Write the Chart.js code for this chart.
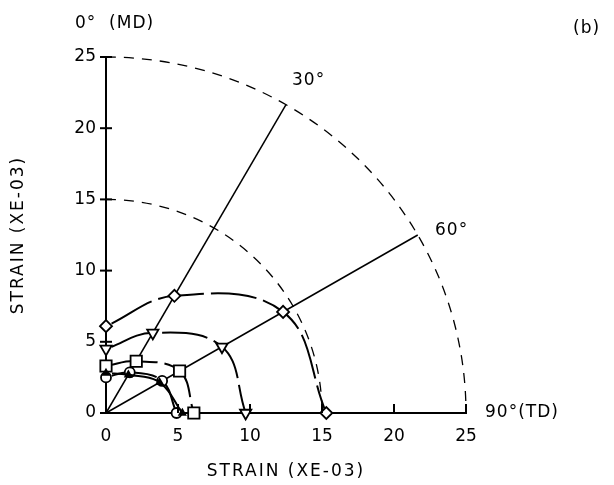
<!DOCTYPE html>
<html>
<head>
<meta charset="utf-8">
<script src="https://cdn.jsdelivr.net/npm/chart.js@4.4.0/dist/chart.umd.min.js"></script>
<style>
  html, body { margin: 0; padding: 0; background: #fff; }
  canvas { display: block; }
</style>
</head>
<body>
<canvas id="strainChart" width="614" height="485"></canvas>
<script>
// --- data (strain, XE-03) ---
const angles    = [0, 30, 60, 90];          // degrees from MD
const diamondR  = [6.1, 9.5, 14.2, 15.3];
const triangleR = [4.5, 6.5, 9.3, 9.7];
const squareR   = [3.3, 4.2, 5.9, 6.1];
const circleR   = [2.5, 3.3, 4.5, 4.9];
const dotR      = [2.8, 3.1, 4.3, 5.3];
const refArcs   = [15, 25];                 // dashed reference circles
const rayAngles = [30, 60];
const rayLength = 25;
const axisTicks = [0, 5, 10, 15, 20, 25];

const FONT = '"DejaVu Sans", sans-serif';
const rad = d => d * Math.PI / 180;

// polar (angle from MD axis, radius) -> x = TD, y = MD
function toXY(rs) {
    return rs.map((r, i) => ({ x: r * Math.sin(rad(angles[i])), y: r * Math.cos(rad(angles[i])) }));
}

function series(rs, style, radius, rotation, fill) {
    return {
        data: toXY(rs),
        showLine: true,
        clip: false,
        tension: 0.4,
        borderColor: '#000',
        borderWidth: 2,
        borderDash: [46, 7],
        borderDashOffset: -6,
        pointStyle: style,
        pointRotation: rotation || 0,
        pointRadius: radius,
        pointBackgroundColor: fill || '#fff',
        pointBorderColor: '#000',
        pointBorderWidth: 1.8
    };
}

const rays = rayAngles.map(a => ({
    data: [{ x: 0, y: 0 }, { x: rayLength * Math.sin(rad(a)), y: rayLength * Math.cos(rad(a)) }],
    showLine: true,
    clip: false,
    tension: 0,
    borderColor: '#000',
    borderWidth: 1.5,
    pointRadius: 0
}));

// --- extra drawing: reference arcs, tick marks, labels ---
const decorations = {
    id: 'decorations',
    beforeDatasetsDraw(chart) {
        const { ctx, scales: { x, y } } = chart;
        const cx = x.getPixelForValue(0), cy = y.getPixelForValue(0);
        ctx.save();
        ctx.strokeStyle = '#000';
        ctx.lineWidth = 1.3;
        ctx.setLineDash([10, 8]);
        refArcs.forEach(r => {
            ctx.beginPath();
            ctx.ellipse(cx, cy, x.getPixelForValue(r) - cx, cy - y.getPixelForValue(r), 0, -Math.PI / 2, 0);
            ctx.stroke();
        });
        ctx.restore();
    },
    afterDatasetsDraw(chart) {
        const { ctx, scales: { x, y } } = chart;
        const cx = x.getPixelForValue(0), cy = y.getPixelForValue(0);
        ctx.save();
        ctx.strokeStyle = '#000';
        ctx.lineWidth = 2;
        axisTicks.forEach(v => {
            const py = y.getPixelForValue(v);
            ctx.beginPath(); ctx.moveTo(cx - 6, py); ctx.lineTo(cx + 6, py); ctx.stroke();
            if (v > 0) {
                const px = x.getPixelForValue(v);
                ctx.beginPath(); ctx.moveTo(px, cy); ctx.lineTo(px, cy - 9); ctx.stroke();
            }
        });
        ctx.restore();
    },
    afterDraw(chart) {
        const { ctx } = chart;
        ctx.save();
        ctx.fillStyle = '#000';
        ctx.font = '17px ' + FONT;
        ctx.letterSpacing = '1px';
        ctx.textBaseline = 'middle';
        ctx.textAlign = 'left';
        ctx.fillText('0°  (MD)', 75, 24);
        ctx.fillText('(b)', 573, 29);
        ctx.fillText('30°', 292, 81);
        ctx.fillText('60°', 435, 231);
        ctx.fillText('90°(TD)', 485, 413);
        ctx.letterSpacing = '2px';
        ctx.textAlign = 'center';
        ctx.fillText('STRAIN (XE-03)', 286, 472);
        ctx.translate(19, 235);
        ctx.rotate(-Math.PI / 2);
        ctx.fillText('STRAIN (XE-03)', 0, 0);
        ctx.restore();
    }
};

const axisFont = { family: FONT, size: 17 };

new Chart(document.getElementById('strainChart').getContext('2d'), {
    type: 'scatter',
    data: {
        datasets: [
            series(dotR, 'triangle', 3.5, 0, '#000'),
            series(circleR, 'circle', 5),
            series(squareR, 'rect', 8),
            series(triangleR, 'triangle', 6.5, 180),
            series(diamondR, 'rectRot', 6),
            ...rays
        ]
    },
    options: {
        responsive: false,
        animation: false,
        devicePixelRatio: 1,
        layout: { padding: { top: 57, right: 148, left: 0, bottom: 0 } },
        plugins: { legend: { display: false }, tooltip: { enabled: false } },
        scales: {
            x: {
                type: 'linear', min: 0, max: 25,
                afterFit: s => { s.height = 72; },
                grid: { display: false, drawTicks: false },
                border: { display: true, color: '#000', width: 2 },
                ticks: { stepSize: 5, autoSkip: false, maxRotation: 0, color: '#000', font: axisFont, padding: 13 }
            },
            y: {
                type: 'linear', min: 0, max: 25,
                afterFit: s => { s.width = 106; },
                grid: { display: false, drawTicks: false },
                border: { display: true, color: '#000', width: 2 },
                ticks: { stepSize: 5, autoSkip: false, color: '#000', font: axisFont, padding: 10 }
            }
        }
    },
    plugins: [decorations]
});
</script>
</body>
</html>
